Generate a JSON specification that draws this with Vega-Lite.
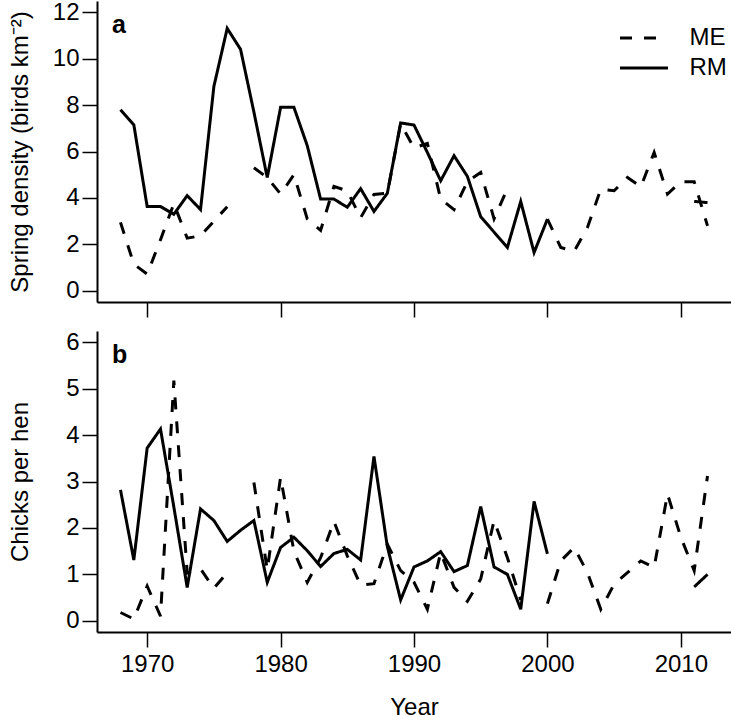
{
  "$schema": "https://vega.github.io/schema/vega-lite/v6.json",
  "padding": {"left": 8, "top": 0, "right": 0, "bottom": 0},
  "spacing": 29,
  "bounds": "flush",
  "background": "white",
  "config": {
    "font": "Liberation Sans",
    "view": {"stroke": null},
    "axis": {
      "domainColor": "black", "domainWidth": 2, "tickColor": "black", "tickWidth": 1.5, "tickSize": 15,
      "labelFont": "Liberation Sans", "labelFontSize": 24, "labelColor": "black", "labelFlush": false, "labelOverlap": false,
      "titleFont": "Liberation Sans", "titleFontSize": 24, "titleFontWeight": "normal", "titleColor": "black", "grid": false
    }
  },
  "datasets": {
    "series": [
      {"year": 1968, "site": "ME", "density": 2.95, "chicks": 0.18}, {"year": 1968, "site": "RM", "density": 7.8, "chicks": 2.82},
      {"year": 1969, "site": "ME", "density": 1.15, "chicks": 0.04}, {"year": 1969, "site": "RM", "density": 7.15, "chicks": 1.31},
      {"year": 1970, "site": "ME", "density": 0.72, "chicks": 0.75}, {"year": 1970, "site": "RM", "density": 3.63, "chicks": 3.72},
      {"year": 1971, "site": "ME", "density": 2.2, "chicks": 0.1}, {"year": 1971, "site": "RM", "density": 3.63, "chicks": 4.13},
      {"year": 1972, "site": "ME", "density": 3.75, "chicks": 5.17}, {"year": 1972, "site": "RM", "density": 3.3, "chicks": 2.45},
      {"year": 1973, "site": "ME", "density": 2.27, "chicks": 1.03}, {"year": 1973, "site": "RM", "density": 4.1, "chicks": 0.72},
      {"year": 1974, "site": "ME", "density": 2.37, "chicks": 1.12}, {"year": 1974, "site": "RM", "density": 3.5, "chicks": 2.41},
      {"year": 1975, "site": "ME", "density": 3.0, "chicks": 0.7}, {"year": 1975, "site": "RM", "density": 8.8, "chicks": 2.16},
      {"year": 1976, "site": "ME", "density": 3.62, "chicks": 1.04}, {"year": 1976, "site": "RM", "density": 11.3, "chicks": 1.71},
      {"year": 1977, "site": "ME", "density": null, "chicks": null}, {"year": 1977, "site": "RM", "density": 10.4, "chicks": 1.95},
      {"year": 1978, "site": "ME", "density": 5.3, "chicks": 2.98}, {"year": 1978, "site": "RM", "density": 7.7, "chicks": 2.16},
      {"year": 1979, "site": "ME", "density": 4.88, "chicks": 1.1}, {"year": 1979, "site": "RM", "density": 4.88, "chicks": 0.83},
      {"year": 1980, "site": "ME", "density": 4.17, "chicks": 3.09}, {"year": 1980, "site": "RM", "density": 7.9, "chicks": 1.58},
      {"year": 1981, "site": "ME", "density": 5.0, "chicks": 1.5}, {"year": 1981, "site": "RM", "density": 7.9, "chicks": 1.8},
      {"year": 1982, "site": "ME", "density": 3.1, "chicks": 0.83}, {"year": 1982, "site": "RM", "density": 6.25, "chicks": 1.51},
      {"year": 1983, "site": "ME", "density": 2.6, "chicks": 1.36}, {"year": 1983, "site": "RM", "density": 3.95, "chicks": 1.17},
      {"year": 1984, "site": "ME", "density": 4.5, "chicks": 2.14}, {"year": 1984, "site": "RM", "density": 3.95, "chicks": 1.45},
      {"year": 1985, "site": "ME", "density": 4.3, "chicks": 1.4}, {"year": 1985, "site": "RM", "density": 3.6, "chicks": 1.54},
      {"year": 1986, "site": "ME", "density": 3.15, "chicks": 0.77}, {"year": 1986, "site": "RM", "density": 4.4, "chicks": 1.31},
      {"year": 1987, "site": "ME", "density": 4.15, "chicks": 0.8}, {"year": 1987, "site": "RM", "density": 3.42, "chicks": 3.54},
      {"year": 1988, "site": "ME", "density": 4.2, "chicks": 1.65}, {"year": 1988, "site": "RM", "density": 4.2, "chicks": 1.6},
      {"year": 1989, "site": "ME", "density": 7.2, "chicks": 1.08}, {"year": 1989, "site": "RM", "density": 7.23, "chicks": 0.45},
      {"year": 1990, "site": "ME", "density": 6.15, "chicks": 0.83}, {"year": 1990, "site": "RM", "density": 7.14, "chicks": 1.16},
      {"year": 1991, "site": "ME", "density": 6.35, "chicks": 0.25}, {"year": 1991, "site": "RM", "density": 5.96, "chicks": 1.29},
      {"year": 1992, "site": "ME", "density": 3.95, "chicks": 1.47}, {"year": 1992, "site": "RM", "density": 4.74, "chicks": 1.49},
      {"year": 1993, "site": "ME", "density": 3.5, "chicks": 0.72}, {"year": 1993, "site": "RM", "density": 5.82, "chicks": 1.06},
      {"year": 1994, "site": "ME", "density": 4.7, "chicks": 0.42}, {"year": 1994, "site": "RM", "density": 4.93, "chicks": 1.19},
      {"year": 1995, "site": "ME", "density": 5.1, "chicks": 0.9}, {"year": 1995, "site": "RM", "density": 3.19, "chicks": 2.46},
      {"year": 1996, "site": "ME", "density": 3.1, "chicks": 2.16}, {"year": 1996, "site": "RM", "density": 2.53, "chicks": 1.16},
      {"year": 1997, "site": "ME", "density": 4.4, "chicks": 1.36}, {"year": 1997, "site": "RM", "density": 1.87, "chicks": 1.0},
      {"year": 1998, "site": "ME", "density": null, "chicks": 0.45}, {"year": 1998, "site": "RM", "density": 3.85, "chicks": 0.25},
      {"year": 1999, "site": "ME", "density": null, "chicks": null}, {"year": 1999, "site": "RM", "density": 1.65, "chicks": 2.57},
      {"year": 2000, "site": "ME", "density": 3.09, "chicks": 0.37}, {"year": 2000, "site": "RM", "density": 3.09, "chicks": 1.44},
      {"year": 2001, "site": "ME", "density": 1.87, "chicks": 1.29}, {"year": 2001, "site": "RM", "density": null, "chicks": null},
      {"year": 2002, "site": "ME", "density": 1.7, "chicks": 1.58}, {"year": 2002, "site": "RM", "density": null, "chicks": null},
      {"year": 2003, "site": "ME", "density": 2.73, "chicks": 1.04}, {"year": 2003, "site": "RM", "density": null, "chicks": null},
      {"year": 2004, "site": "ME", "density": 4.38, "chicks": 0.25}, {"year": 2004, "site": "RM", "density": null, "chicks": null},
      {"year": 2005, "site": "ME", "density": 4.31, "chicks": 0.79}, {"year": 2005, "site": "RM", "density": null, "chicks": null},
      {"year": 2006, "site": "ME", "density": 4.88, "chicks": 1.04}, {"year": 2006, "site": "RM", "density": null, "chicks": null},
      {"year": 2007, "site": "ME", "density": 4.48, "chicks": 1.29}, {"year": 2007, "site": "RM", "density": null, "chicks": null},
      {"year": 2008, "site": "ME", "density": 5.96, "chicks": 1.15}, {"year": 2008, "site": "RM", "density": null, "chicks": null},
      {"year": 2009, "site": "ME", "density": 4.17, "chicks": 2.73}, {"year": 2009, "site": "RM", "density": null, "chicks": null},
      {"year": 2010, "site": "ME", "density": 4.7, "chicks": 1.8}, {"year": 2010, "site": "RM", "density": null, "chicks": null},
      {"year": 2011, "site": "ME", "density": 4.7, "chicks": 1.08}, {"year": 2011, "site": "RM", "density": 3.85, "chicks": 0.73},
      {"year": 2012, "site": "ME", "density": 2.8, "chicks": 3.12}, {"year": 2012, "site": "RM", "density": 3.8, "chicks": 1.0}
    ]
  },
  "resolve": {"legend": {"strokeDash": "independent"}},
  "vconcat": [
    {
      "width": 634, "height": 301,
      "layer": [
        {
          "data": {"name": "series"},
          "mark": {"type": "line", "color": "black", "strokeWidth": 3, "invalid": "break-paths-show-domains"},
          "encoding": {
            "x": {"field": "year", "type": "quantitative",
                  "scale": {"domain": [1966.24, 2013.76], "nice": false, "zero": false},
                  "axis": {"values": [1970, 1980, 1990, 2000, 2010], "labels": false, "title": null}},
            "y": {"field": "density", "type": "quantitative",
                  "scale": {"domain": [-0.48, 12.48], "nice": false, "zero": false},
                  "axis": {"values": [0, 2, 4, 6, 8, 10, 12], "labelPadding": 3, "title": "Spring density (birds km⁻²)",
                           "titleX": -70, "titleY": 150.5, "titleAngle": 270, "titleAlign": "center", "titleBaseline": "alphabetic"}},
            "strokeDash": {"field": "site", "type": "nominal",
                           "scale": {"domain": ["ME", "RM"], "range": [[12, 12], [1, 0]]},
                           "legend": {"orient": "none", "legendX": 521.5, "legendY": 22, "title": null, "padding": 0,
                                      "symbolType": "stroke", "symbolStrokeWidth": 3, "symbolSize": 2304, "symbolStrokeColor": "black",
                                      "labelFont": "Liberation Sans", "labelFontSize": 24, "labelColor": "black",
                                      "labelOffset": 20, "clipHeight": 30, "rowPadding": 0}}
          }
        },
        {
          "data": {"values": [{"panel": "a"}]},
          "mark": {"type": "text", "font": "Liberation Sans", "fontSize": 25, "fontWeight": "bold", "color": "black", "align": "left", "baseline": "alphabetic"},
          "encoding": {
            "text": {"field": "panel", "type": "nominal"},
            "x": {"datum": 1967.37, "type": "quantitative"},
            "y": {"datum": 11.12, "type": "quantitative"}
          }
        }
      ]
    },
    {
      "width": 634, "height": 301,
      "layer": [
        {
          "data": {"name": "series"},
          "mark": {"type": "line", "color": "black", "strokeWidth": 3, "invalid": "break-paths-show-domains"},
          "encoding": {
            "x": {"field": "year", "type": "quantitative",
                  "scale": {"domain": [1966.24, 2013.76], "nice": false, "zero": false},
                  "axis": {"values": [1970, 1980, 1990, 2000, 2010], "format": "d", "labelBaseline": "alphabetic", "labelPadding": 24.7,
                           "title": "Year", "titleY": 82, "titleBaseline": "alphabetic"}},
            "y": {"field": "chicks", "type": "quantitative",
                  "scale": {"domain": [-0.24, 6.24], "nice": false, "zero": false},
                  "axis": {"values": [0, 1, 2, 3, 4, 5, 6], "labelPadding": 3, "title": "Chicks per hen",
                           "titleX": -70, "titleY": 150.5, "titleAngle": 270, "titleAlign": "center", "titleBaseline": "alphabetic"}},
            "strokeDash": {"field": "site", "type": "nominal",
                           "scale": {"domain": ["ME", "RM"], "range": [[12, 12], [1, 0]]},
                           "legend": null}
          }
        },
        {
          "data": {"values": [{"panel": "b"}]},
          "mark": {"type": "text", "font": "Liberation Sans", "fontSize": 25, "fontWeight": "bold", "color": "black", "align": "left", "baseline": "alphabetic"},
          "encoding": {
            "text": {"field": "panel", "type": "nominal"},
            "x": {"datum": 1967.37, "type": "quantitative"},
            "y": {"datum": 5.56, "type": "quantitative"}
          }
        }
      ]
    }
  ]
}
